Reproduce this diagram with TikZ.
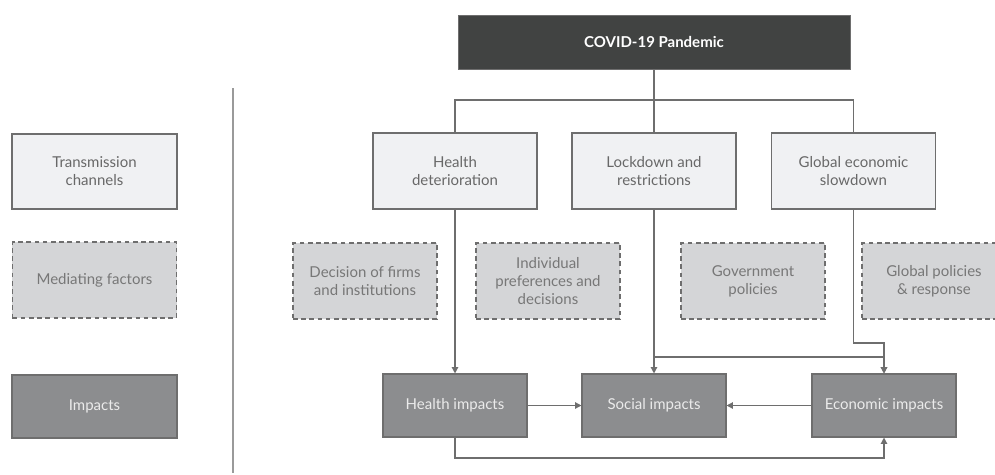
\documentclass[tikz,border=0pt]{standalone}
\usepackage{fontspec}
\setmainfont{Lato}
\usepackage{xcolor}
\usetikzlibrary{arrows.meta, positioning}

\definecolor{fundoescuro}{HTML}{414342}
\definecolor{fundoclaro}{HTML}{F0F1F3}
\definecolor{fundomedio}{HTML}{D4D5D7}
\definecolor{fundoimpacto}{HTML}{8C8D8F}
\definecolor{contorno}{HTML}{6E6E6E}
\definecolor{textocinza}{HTML}{686868}
\definecolor{divisa}{HTML}{9A9A9A}

\begin{document}
\begin{tikzpicture}[
    x=0.03cm, y=-0.03cm,
    >={Triangle[length=5.5pt,width=5.5pt]},
    canal/.style={
        rectangle,
        draw=contorno,
        fill=fundoclaro,
        line width=0.9pt,
        align=center,
        minimum width=4.92cm,
        minimum height=2.28cm,
        text=textocinza,
        font=\fontsize{12.8}{15.5}\selectfont
    },
    mediador/.style={
        canal,
        dashed,
        dash pattern=on 4pt off 3pt,
        fill=fundomedio,
        minimum width=4.32cm,
        text=textocinza!90
    },
    impacto/.style={
        canal,
        fill=fundoimpacto,
        minimum width=4.32cm,
        minimum height=1.89cm,
        text=white!92!black
    },
    topo/.style={
        rectangle,
        fill=fundoescuro,
        draw=contorno,
        minimum width=11.76cm,
        minimum height=1.62cm,
        text=white,
        font=\fontsize{12.8}{15.5}\selectfont\bfseries
    },
    linha/.style={draw=contorno, line width=1.1pt},
    seta/.style={->, linha}
]

\useasboundingbox (0,0) rectangle (995,475);
\clip (0,0) rectangle (995,475);

% legenda
\node[canal, minimum width=4.95cm, minimum height=2.25cm] (legcanal) at (94.5,171.5) {Transmission\\channels};
\node[mediador, minimum width=4.92cm] (legmed) at (94.5,280) {Mediating factors};
\node[impacto, minimum width=4.95cm] (legimp) at (94.5,406.5) {Impacts};

\coordinate (divtopo) at (233,88);
\coordinate (divbase) at (233,473);
\draw[draw=divisa, line width=1.3pt] (divtopo) -- (divbase);

% pandemia e canais
\node[topo] (pandemia) at (654,42) {COVID-19 Pandemic};

\node[canal] (saude) at (455,171) {Health\\deterioration};
\node[canal] (lock) at (654,171) {Lockdown and\\restrictions};
\node[canal] (global) at (853.5,171) {Global economic\\slowdown};

% fatores mediadores
\node[mediador] (firmas) at (365,281) {Decision of firms\\and institutions};
\node[mediador] (indiv) at (548,281) {Individual\\preferences and\\decisions};
\node[mediador] (governo) at (753,281) {Government\\policies};
\node[mediador] (globpol) at (934,281) {Global policies\\\& response};

% impactos
\node[impacto] (himp) at (455,405.5) {Health impacts};
\node[impacto] (simp) at (654,405.5) {Social impacts};
\node[impacto] (eimp) at (884,405.5) {Economic impacts};

\coordinate (junta) at (654,100);
\coordinate (ramo) at (654,357);
\coordinate (curva) at (853.5,343);
\coordinate (fundo) at (455,458);

\draw[linha] (pandemia.south) -- (lock.north);
\draw[linha] (saude.north) |- (junta) -| (global.north);

\draw[seta] (saude.south) -- (himp.north);
\draw[seta] (lock.south) -- (simp.north);
\draw[seta] (ramo) -| (eimp.north);
\draw[seta] (global.south) -- (curva) -| (eimp.north);
\draw[seta] (himp) -- (simp);
\draw[seta] (eimp) -- (simp);
\draw[seta] (himp.south) -- (fundo) -| (eimp.south);

\end{tikzpicture}
\end{document}
